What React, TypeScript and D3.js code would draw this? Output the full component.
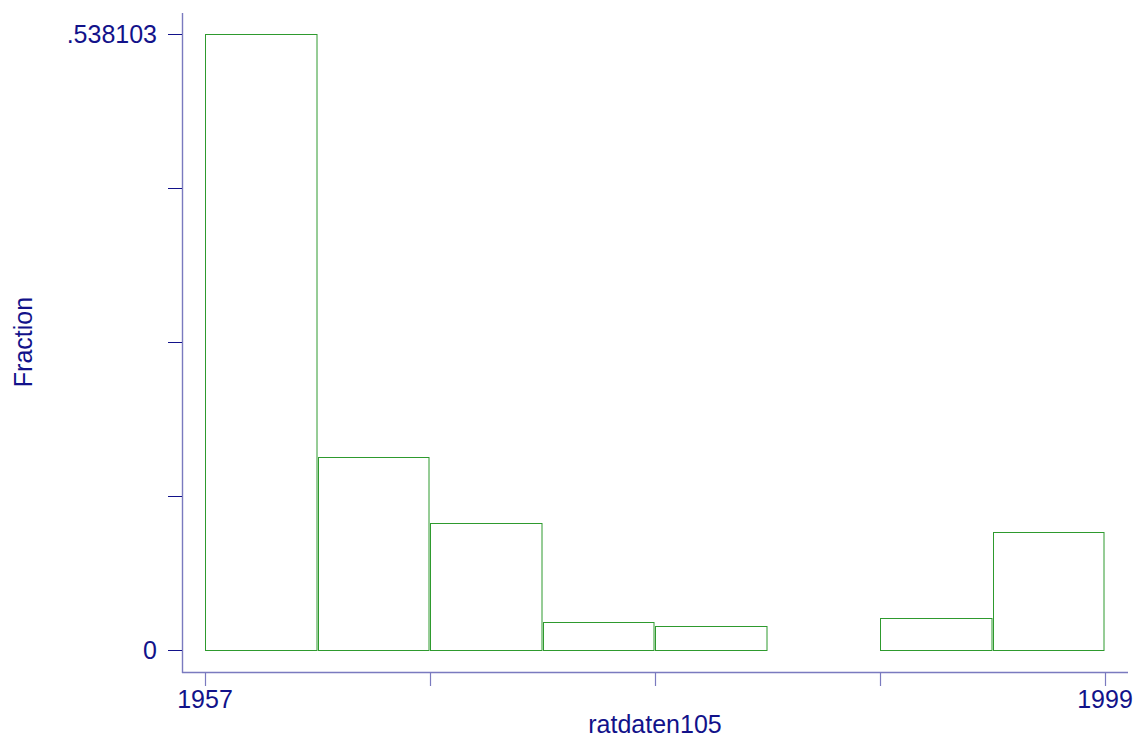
import React from 'react';
import * as d3 from 'd3';

// histogram of ratdaten105, 8 bins from 1957 to 1999
const binStart = 1957;
const binEnd = 1999;
const fractions = [0.538103, 0.1682, 0.1109, 0.0247, 0.021, 0, 0.0282, 0.1028];
const xTickValues = [1957, 1967.5, 1978, 1988.5, 1999];
const xTickLabels = ['1957', '', '', '', '1999'];
const yMax = 0.538103;
const yTickLabels = ['0', '', '', '', '.538103'];

const width = 1133;
const height = 740;
const navy = '#12128a';
const axisColor = '#7a7abf';
const green = '#2e9a2e';
const fontSize = 25;

export default function App() {
  const x = d3.scaleLinear().domain([binStart, binEnd]).range([205, 1105]);
  const y = d3.scaleLinear().domain([0, yMax]).range([650, 34]);
  const binWidth = (binEnd - binStart) / fractions.length;
  const yTickValues = d3.range(5).map(i => (yMax * i) / 4);

  return (
    <svg
      width={width}
      height={height}
      style={{ position: 'absolute', left: 0, top: 0, background: '#fff' }}
      fontFamily="'Liberation Sans', Arial, sans-serif"
    >
      <g>
        {fractions.map((f, i) => {
          if (f <= 0) return null;
          const x0 = Math.round(x(binStart + i * binWidth));
          const x1 = Math.round(x(binStart + (i + 1) * binWidth));
          return (
            <rect
              key={i}
              x={x0 + 0.5}
              y={Math.round(y(f)) + 0.5}
              width={x1 - x0 - 1.5}
              height={Math.round(y(0)) - Math.round(y(f))}
              fill="none"
              stroke={green}
              strokeWidth={1}
            />
          );
        })}
      </g>

      {/* y axis */}
      <line x1={182.5} x2={182.5} y1={13} y2={673} stroke={axisColor} strokeWidth={1.4} />
      {yTickValues.map((v, i) => (
        <g key={i}>
          <line x1={168} x2={182} y1={Math.round(y(v)) + 0.5} y2={Math.round(y(v)) + 0.5} stroke={navy} strokeWidth={1} />
          <text x={157} y={y(v) + 9} textAnchor="end" fontSize={fontSize} fill={navy}>
            {yTickLabels[i]}
          </text>
        </g>
      ))}
      <text
        transform={`translate(32,342) rotate(-90)`}
        textAnchor="middle"
        fontSize={fontSize}
        fill={navy}
      >
        Fraction
      </text>

      {/* x axis */}
      <line x1={182} x2={1128} y1={672.5} y2={672.5} stroke={axisColor} strokeWidth={1.4} />
      {xTickValues.map((v, i) => (
        <g key={i}>
          <line x1={Math.round(x(v)) + 0.5} x2={Math.round(x(v)) + 0.5} y1={673} y2={686} stroke={axisColor} strokeWidth={1.2} />
          <text x={x(v)} y={708} textAnchor="middle" fontSize={fontSize} fill={navy}>
            {xTickLabels[i]}
          </text>
        </g>
      ))}
      <text x={655} y={733} textAnchor="middle" fontSize={fontSize} fill={navy}>
        ratdaten105
      </text>
    </svg>
  );
}
